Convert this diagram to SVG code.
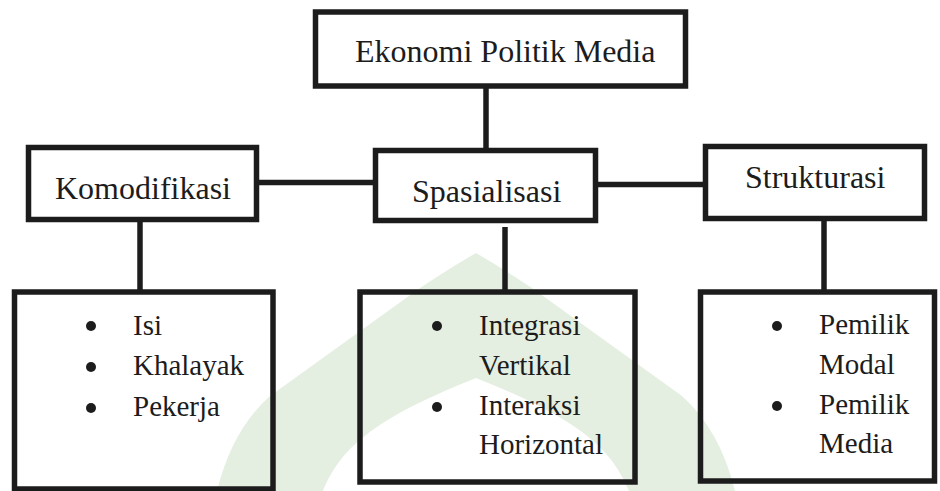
<svg xmlns="http://www.w3.org/2000/svg" width="940" height="491" viewBox="0 0 940 491">
<style>
.box{fill:none;stroke:#1c1c1c;stroke-width:5.5}
.con{stroke:#1c1c1c;stroke-width:5.5;fill:none}
.b{fill:#1c1c1c}
text{font-family:"Liberation Serif","Times New Roman",serif;fill:#1c1c1c}
.h{font-size:32px}
.l{font-size:29px}
</style>
<rect width="940" height="491" fill="#ffffff"/>
<path id="watermark" fill="#e4efe1" fill-rule="evenodd" d="M 217 491 Q 232 430 270 396 L 420 288 Q 450 268 476 253 Q 502 268 532 288 L 682 396 Q 720 430 735 491 Z M 323 491 C 340 450 370 420 476 378 C 582 420 612 450 629 491 Z"/>
<g id="connectors">
<line class="con" x1="486" y1="86" x2="486" y2="150"/>
<line class="con" x1="259" y1="182.5" x2="373" y2="182.5"/>
<line class="con" x1="598" y1="184.5" x2="708" y2="184.5"/>
<line class="con" x1="140" y1="219" x2="140" y2="292"/>
<line class="con" x1="505" y1="227" x2="505" y2="292"/>
<line class="con" x1="824" y1="218" x2="824" y2="292"/>
</g>
<g id="n-ekonomi">
<rect class="box" x="315.5" y="12" width="370" height="74"/>
<text class="h" x="355" y="62">Ekonomi Politik Media</text>
</g>
<g id="n-komodifikasi">
<rect class="box" x="28.5" y="147.5" width="228" height="72"/>
<text class="h" x="55" y="199">Komodifikasi</text>
</g>
<g id="n-spasialisasi">
<rect class="box" x="375.5" y="150.5" width="220" height="70"/>
<text class="h" x="412" y="202">Spasialisasi</text>
</g>
<g id="n-strukturasi">
<rect class="box" x="705.5" y="146.5" width="219" height="72"/>
<text class="h" x="745" y="188">Strukturasi</text>
</g>
<g id="n-list-komodifikasi">
<rect class="box" x="14.5" y="292" width="258.5" height="197"/>
<circle class="b" cx="91" cy="326" r="5"/>
<circle class="b" cx="91" cy="367" r="5"/>
<circle class="b" cx="91" cy="408" r="5"/>
<text class="l" x="133" y="335">Isi</text>
<text class="l" x="133" y="375">Khalayak</text>
<text class="l" x="133" y="416">Pekerja</text>
</g>
<g id="n-list-spasialisasi">
<rect class="box" x="360" y="292" width="275" height="190"/>
<circle class="b" cx="437" cy="326" r="5"/>
<circle class="b" cx="437" cy="407" r="5"/>
<text class="l" x="479" y="335">Integrasi</text>
<text class="l" x="479" y="375">Vertikal</text>
<text class="l" x="479" y="415">Interaksi</text>
<text class="l" x="479" y="454">Horizontal</text>
</g>
<g id="n-list-strukturasi">
<rect class="box" x="700.5" y="292" width="234" height="189"/>
<circle class="b" cx="777" cy="326" r="5"/>
<circle class="b" cx="777" cy="406" r="5"/>
<text class="l" x="819" y="334">Pemilik</text>
<text class="l" x="819" y="374">Modal</text>
<text class="l" x="819" y="414">Pemilik</text>
<text class="l" x="819" y="453">Media</text>
</g>
</svg>
